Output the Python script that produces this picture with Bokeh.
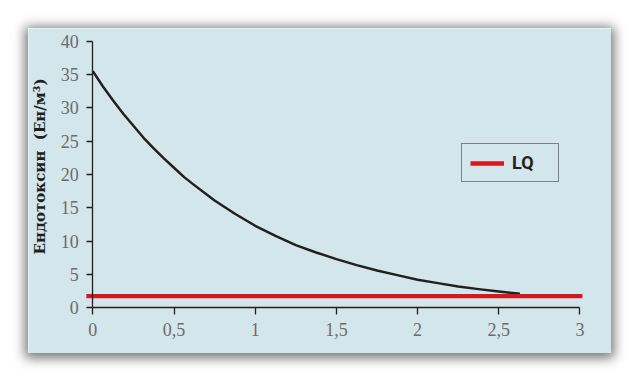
from math import pi
from bokeh.plotting import figure
from bokeh.models import Range1d, FixedTicker, Label, Legend, LegendItem, LinearAxis
from bokeh.embed import file_html
from bokeh.resources import INLINE

# ---- data ----
time_x = [0, 0.0625, 0.125, 0.1875, 0.25, 0.3125, 0.375, 0.4375, 0.5, 0.5625, 0.625,
          0.75, 0.875, 1.0, 1.125, 1.25, 1.375, 1.5, 1.625, 1.75, 1.875, 2.0, 2.125,
          2.25, 2.375, 2.5, 2.63]
endotoxin = [35.5, 33.2, 31.1, 29.1, 27.3, 25.5, 23.9, 22.4, 21.0, 19.6, 18.4,
             16.1, 14.1, 12.3, 10.8, 9.4, 8.3, 7.3, 6.4, 5.6, 4.9, 4.2, 3.7,
             3.2, 2.8, 2.45, 2.1]
lq_x = [-0.04, 3.015]
lq_y = [1.75, 1.75]
lq_label = "LQ"
y_title = "Ендотоксин\u00a0\u00a0(Ен/м³)"
x_ticks = [0, 0.5, 1, 1.5, 2, 2.5, 3]
x_tick_labels = ["0", "0,5", "1", "1,5", "2", "2,5", "3"]
y_ticks = [0, 5, 10, 15, 20, 25, 30, 35, 40]
y_tick_labels = ["0", "5", "10", "15", "20", "25", "30", "35", "40"]

PANEL = "#d2e6ec"
INK = "#231f20"
RED = "#d7191f"
TICK_FONT = "Liberation Sans Narrow"

p = figure(width=583, height=325, output_backend="svg", toolbar_location=None,
           x_range=Range1d(-0.396, 3.194), y_range=Range1d(-6.855, 41.89),
           x_axis_location=None, y_axis_location=None, min_border=0)
p.background_fill_color = PANEL
p.border_fill_color = PANEL
p.outline_line_color = None
p.grid.visible = False
p.styles = {"margin-left": "28px", "margin-top": "28px",
            "box-shadow": "0px 2px 11px 3px rgba(0,0,0,0.55)"}

xaxis = LinearAxis(fixed_location=0, bounds=(0, 3))
xaxis.ticker = FixedTicker(ticks=x_ticks)
xaxis.major_label_overrides = {t: l for t, l in zip(x_ticks, x_tick_labels)}
yaxis = LinearAxis(fixed_location=0, bounds=(0, 40))
yaxis.ticker = FixedTicker(ticks=y_ticks)
yaxis.major_label_overrides = {t: l for t, l in zip(y_ticks, y_tick_labels)}
for ax, tick_out, standoff in ((xaxis, 7, 8), (yaxis, 6, 8)):
    ax.axis_line_color = INK
    ax.axis_line_width = 1.3
    ax.major_tick_line_color = INK
    ax.major_tick_line_width = 1.3
    ax.major_tick_in = 0
    ax.major_tick_out = tick_out
    ax.minor_tick_line_color = None
    ax.major_label_text_color = "#6b6b6b"
    ax.major_label_text_font = TICK_FONT
    ax.major_label_text_font_size = "18px"
    ax.major_label_standoff = standoff
p.add_layout(xaxis, "below")
p.add_layout(yaxis, "left")

p.line(time_x, endotoxin, line_color=INK, line_width=2.5, line_join="round")
lq = p.line(lq_x, lq_y, line_color=RED, line_width=4.3)

legend = Legend(items=[LegendItem(label=lq_label, renderers=[lq])],
                location=(433, 171), margin=0, padding=8,
                glyph_width=34, glyph_height=18, label_standoff=8,
                label_width=38, label_height=18,
                border_line_color=INK, border_line_width=1.5,
                background_fill_alpha=0,
                label_text_font="Roboto", label_text_font_style="bold",
                label_text_font_size="18px", label_text_color=INK)
p.add_layout(legend, "center")

p.add_layout(Label(x=-0.324, y=21.2, text=y_title, angle=pi / 2,
                   text_align="center", text_baseline="middle",
                   text_font="DejaVu Serif", text_font_style="bold",
                   text_font_size="15px", text_color=INK))

open("out.html", "w").write(file_html(p, INLINE))
